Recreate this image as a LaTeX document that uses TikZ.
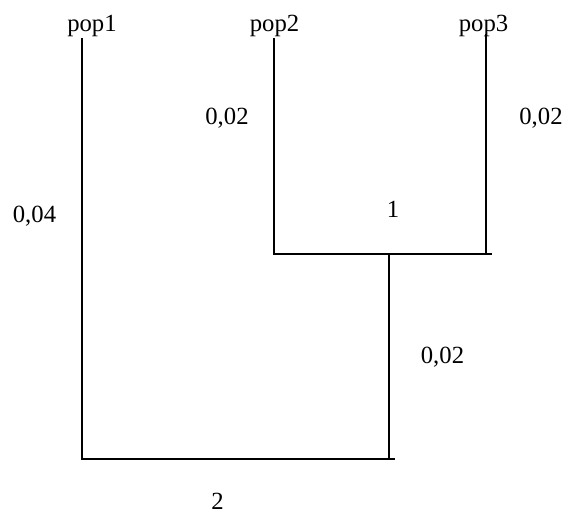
\documentclass[tikz,border=0pt]{standalone}
\usepackage{fontspec}
\setmainfont{Liberation Serif}
\begin{document}
\begin{tikzpicture}[x=1pt,y=-1pt,
  lbl/.style={inner sep=0pt,anchor=base,font=\fontsize{24.7}{30}\selectfont},
  branch/.style={line width=1.8pt,line cap=rect}]
\useasboundingbox (0,0) rectangle (563,514);
% labels
\node[lbl] (pop1) at (92,31) {pop1};
\node[lbl] (pop2) at (274.5,31) {pop2};
\node[lbl] (pop3) at (483.5,31) {pop3};
\node[lbl] (b2) at (227,124) {0,02};
\node[lbl] (b3) at (541,124) {0,02};
\node[lbl] (b1) at (34.5,222.7) {0,04};
\node[lbl] (n1) at (393,217) {1};
\node[lbl] (b4) at (442.5,363) {0,02};
\node[lbl] (n2) at (217.5,509.5) {2};
% joints
\coordinate (t1) at (82,39);
\coordinate (t2) at (274,39);
\coordinate (t3) at (486,35);
\coordinate (a2) at (274,254);
\coordinate (a3) at (486,254);
\coordinate (aR) at (491,254);
\coordinate (m) at (389,254);
\coordinate (mb) at (389,459);
\coordinate (bR) at (394,459);
\coordinate (a1) at (82,459);
% branches
\draw[branch] (t1) -- (a1) -- (bR);
\draw[branch] (mb) -- (m);
\draw[branch] (a2) -- (aR);
\draw[branch] (t2) -- (a2);
\draw[branch] (t3) -- (a3);
\end{tikzpicture}
\end{document}
